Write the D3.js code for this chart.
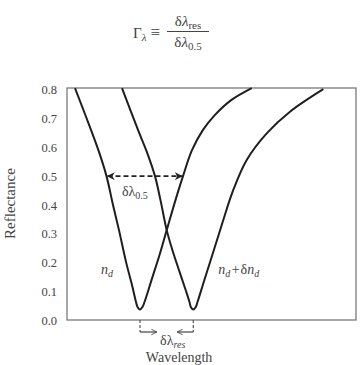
<!DOCTYPE html>
<html>
<head>
<meta charset="utf-8">
<script src="https://cdn.jsdelivr.net/npm/d3@7"></script>
<style>
	body { margin: 0; background: #fff; }
	text { font-family: "Liberation Serif", "DejaVu Serif", serif; fill: #444; }
</style>
</head>
<body>
<svg class="dipGraph"></svg>
<script>
// reflectance dips (wavelength in arbitrary units 0-100)
const yTicks = [0, 0.1, 0.2, 0.3, 0.4, 0.5, 0.6, 0.7, 0.8];
const wlA = [2.77, 8.30, 11.07, 13.67, 15.92, 17.99, 20.42, 22.49, 23.88, 24.39, 25.26, 26.12, 26.82, 29.24, 32.01, 34.50, 37.54, 40.14, 43.25, 47.06, 51.21, 56.92, 63.91];
const reflA = [0.805, 0.660, 0.584, 0.50, 0.400, 0.313, 0.203, 0.123, 0.064, 0.047, 0.038, 0.047, 0.064, 0.140, 0.227, 0.313, 0.417, 0.50, 0.590, 0.660, 0.712, 0.764, 0.805];
const wlB = [19.03, 24.57, 28.03, 30.45, 32.35, 34.50, 36.68, 39.10, 41.18, 42.39, 42.84, 43.70, 44.57, 45.16, 47.54, 50.28, 52.46, 54.08, 57.54, 62.18, 69.10, 77.16, 88.69];
const reflB = [0.805, 0.660, 0.573, 0.50, 0.417, 0.313, 0.237, 0.164, 0.102, 0.064, 0.047, 0.038, 0.047, 0.064, 0.140, 0.227, 0.296, 0.348, 0.452, 0.556, 0.648, 0.723, 0.801];
const halfLevel = 0.5;
const halfEdges = [13.67, 40.14];   // where curve A crosses 0.5
const minima = [25.26, 43.70];      // resonance positions
const resArrowEnds = [31.1, 38.1];

const svg = d3.select('.dipGraph')
	.attr('width', 363)
	.attr('height', 365);

let width = +svg.attr('width'),
	height = +svg.attr('height'),
	margin = { top: 88, right: 7, bottom: 45, left: 67 },
	innerWidth = width - margin.left - margin.right,
	innerHeight = height - margin.top - margin.bottom;

const xScale = d3.scaleLinear()
	.domain([0, 100])
	.range([0, innerWidth]);

const yScale = d3.scaleLinear()
	.domain([0, 0.8])
	.range([innerHeight + 0.5, 1.5]);

const lineGenerator = d3.line()
	.x(d => xScale(d[0]))
	.y(d => yScale(d[1]))
	.curve(d3.curveCatmullRom.alpha(0.5));

const defs = svg.append('defs');
defs.append('marker')
	.attr('id', 'headFill')
	.attr('viewBox', '0 0 10 10')
	.attr('refX', 9).attr('refY', 5)
	.attr('markerWidth', 8).attr('markerHeight', 8)
	.attr('markerUnits', 'userSpaceOnUse')
	.attr('orient', 'auto-start-reverse')
	.append('path')
	.attr('d', 'M0,0 L10,5 L0,10 L3,5 Z')
	.attr('fill', '#222');
defs.append('marker')
	.attr('id', 'headOpen')
	.attr('viewBox', '0 0 10 10')
	.attr('refX', 9).attr('refY', 5)
	.attr('markerWidth', 7).attr('markerHeight', 7)
	.attr('markerUnits', 'userSpaceOnUse')
	.attr('orient', 'auto')
	.append('path')
	.attr('d', 'M1,1 L9,5 L1,9')
	.attr('fill', 'none')
	.attr('stroke', '#444')
	.attr('stroke-width', 1.2);

const g = svg.append('g')
	.attr('transform', `translate(${margin.left}, ${margin.top})`);

// frame
g.append('rect')
	.attr('width', innerWidth)
	.attr('height', innerHeight)
	.attr('fill', 'none')
	.attr('stroke', '#7a7a7a')
	.attr('stroke-width', 1.3);

const yAxis = d3.axisLeft(yScale)
	.tickValues(yTicks)
	.tickFormat(d3.format('.1f'))
	.tickSize(0)
	.tickPadding(10);
const yAxisG = g.append('g').call(yAxis);
yAxisG.select('.domain').remove();
yAxisG.selectAll('text')
	.attr('font-size', 12.5)
	.attr('font-family', '"Liberation Serif", serif')
	.attr('fill', '#444');

svg.append('text')
	.attr('transform', `translate(15, ${margin.top + yScale(0.405)}) rotate(-90)`)
	.attr('text-anchor', 'middle')
	.attr('font-size', 15)
	.text('Reflectance');

svg.append('text')
	.attr('x', margin.left + xScale(38.8))
	.attr('y', 362)
	.attr('text-anchor', 'middle')
	.attr('font-size', 14)
	.text('Wavelength');

// curves
[[wlA, reflA], [wlB, reflB]].forEach(([wl, r]) => {
	g.append('path')
		.attr('class', 'line-path')
		.attr('stroke', '#1e1e1e')
		.attr('stroke-width', 2)
		.attr('stroke-linejoin', 'round')
		.attr('fill', 'none')
		.attr('d', lineGenerator(d3.zip(wl, r)));
});

// full width at half minimum
g.append('line')
	.attr('x1', xScale(halfEdges[0]) + 1)
	.attr('x2', xScale(halfEdges[1]) - 1)
	.attr('y1', yScale(halfLevel))
	.attr('y2', yScale(halfLevel))
	.attr('stroke', '#222')
	.attr('stroke-width', 1.8)
	.attr('stroke-dasharray', '5,3')
	.attr('marker-start', 'url(#headFill)')
	.attr('marker-end', 'url(#headFill)');

const halfLbl = g.append('text')
	.attr('x', xScale(19.0))
	.attr('y', yScale(0.43))
	.attr('font-size', 14);
halfLbl.append('tspan').text('δλ');
halfLbl.append('tspan').attr('font-size', 10).attr('dy', 3).text('0.5');

const nLbl = g.append('text')
	.attr('x', xScale(11.8))
	.attr('y', yScale(0.16))
	.attr('font-size', 14)
	.attr('font-style', 'italic');
nLbl.append('tspan').text('n');
nLbl.append('tspan').attr('font-size', 10).attr('dy', 3).text('d');

const nLbl2 = g.append('text')
	.attr('x', xScale(52.3))
	.attr('y', yScale(0.16))
	.attr('font-size', 14)
	.attr('font-style', 'italic');
nLbl2.append('tspan').text('n');
nLbl2.append('tspan').attr('font-size', 10).attr('dy', 3).text('d');
nLbl2.append('tspan').attr('dy', -3).attr('dx', 1.5).attr('font-style', 'normal').text('+');
nLbl2.append('tspan').attr('dx', 1).attr('font-style', 'normal').text('δ');
nLbl2.append('tspan').text('n');
nLbl2.append('tspan').attr('font-size', 10).attr('dy', 3).text('d');

// resonance shift marks below the axis
const drop = 12;
g.selectAll('.drop')
	.data(minima)
	.enter().append('line')
	.attr('class', 'drop')
	.attr('x1', d => xScale(d))
	.attr('x2', d => xScale(d))
	.attr('y1', innerHeight)
	.attr('y2', innerHeight + drop)
	.attr('stroke', '#555')
	.attr('stroke-width', 1.2)
	.attr('stroke-dasharray', '3,2');

g.selectAll('.shift')
	.data(d3.zip(minima, resArrowEnds))
	.enter().append('line')
	.attr('class', 'shift')
	.attr('x1', d => xScale(d[0]))
	.attr('x2', d => xScale(d[1]))
	.attr('y1', innerHeight + drop)
	.attr('y2', innerHeight + drop)
	.attr('stroke', '#444')
	.attr('stroke-width', 1.2)
	.attr('marker-end', 'url(#headOpen)');

const resLbl = g.append('text')
	.attr('x', xScale(32.2))
	.attr('y', innerHeight + 25)
	.attr('font-size', 14);
resLbl.append('tspan').text('δλ');
resLbl.append('tspan').attr('font-size', 10).attr('dy', 3).attr('font-style', 'italic').text('res');

// definition on top
const title = svg.append('g');
const gam = title.append('text')
	.attr('x', 133)
	.attr('y', 38)
	.attr('font-size', 15);
gam.append('tspan').text('Γ');
gam.append('tspan').attr('font-size', 11).attr('dy', 3).attr('font-style', 'italic').text('λ');
gam.append('tspan').attr('dy', -3).attr('dx', 4).attr('font-size', 17).text('≡');
const num = title.append('text')
	.attr('x', 188).attr('y', 26)
	.attr('text-anchor', 'middle')
	.attr('font-size', 15);
num.append('tspan').text('δ');
num.append('tspan').attr('font-style', 'italic').text('λ');
num.append('tspan').attr('font-size', 11).attr('dy', 3).text('res');
title.append('line')
	.attr('x1', 167).attr('x2', 209)
	.attr('y1', 31.5).attr('y2', 31.5)
	.attr('stroke', '#444')
	.attr('stroke-width', 1);
const den = title.append('text')
	.attr('x', 188).attr('y', 47)
	.attr('text-anchor', 'middle')
	.attr('font-size', 15);
den.append('tspan').text('δ');
den.append('tspan').attr('font-style', 'italic').text('λ');
den.append('tspan').attr('font-size', 11).attr('dy', 3).text('0.5');
</script>
</body>
</html>
